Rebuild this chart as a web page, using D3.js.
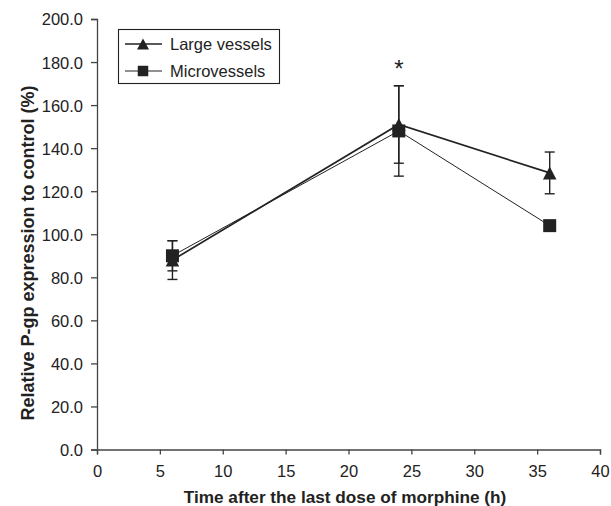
<!DOCTYPE html>
<html><head><meta charset="utf-8">
<script src="https://cdn.jsdelivr.net/npm/d3@7"></script>
<style>body{margin:0;background:#fff}svg{display:block}text{font-family:"Liberation Sans",Arial,sans-serif}</style>
</head><body><svg id="c" width="611" height="506"></svg>
<script>
const times = [6, 24, 36];
const largeVessels = [88, 151, 128.5];
const largeErr = [9, 18, 9.7];
const microVessels = [90, 148, 104];
const microErr = [7, 21, 2];
const xTicks = [0, 5, 10, 15, 20, 25, 30, 35, 40];
const yTicks = [0, 20, 40, 60, 80, 100, 120, 140, 160, 180, 200];
const seriesNames = ["Large vessels", "Microvessels"];

const svg = d3.select("#c");
const x = d3.scaleLinear().domain([0, 40]).range([97, 600]);
const y = d3.scaleLinear().domain([0, 200]).range([449.5, 19]);
const ink = "#222";

const xAxis = svg.append("g").attr("transform", "translate(0,449.5)")
  .call(d3.axisBottom(x).tickValues(xTicks).tickSize(5).tickPadding(11).tickFormat(d3.format("d")));
const yAxis = svg.append("g").attr("transform", "translate(97,0)")
  .call(d3.axisLeft(y).tickValues(yTicks).tickSize(6).tickPadding(8).tickFormat(d3.format(".1f")));
[xAxis, yAxis].forEach(g => {
  g.select(".domain").attr("stroke", "#444").attr("stroke-width", 1.3);
  g.selectAll(".tick line").attr("stroke", "#444").attr("stroke-width", 1.3);
  g.selectAll(".tick text").attr("font-size", 16.5).attr("fill", ink)
   .attr("font-family", '"Liberation Sans", Arial, sans-serif');
});
xAxis.selectAll(".tick text").attr("dy", null).attr("y", 476.5 - 449.5);
yAxis.selectAll(".tick text").attr("dy", "0.36em");

svg.append("text").attr("x", 345).attr("y", 503).attr("text-anchor", "middle")
  .attr("font-size", 17.2).attr("font-weight", "bold").attr("fill", ink)
  .text("Time after the last dose of morphine (h)");
svg.append("text").attr("transform", "translate(34,253) rotate(-90)").attr("text-anchor", "middle")
  .attr("font-size", 18).attr("font-weight", "bold").attr("fill", ink)
  .text("Relative P-gp expression to control (%)");

function tri(w, h) {
  return `M0,${-h / 2}L${w / 2},${h / 2}L${-w / 2},${h / 2}Z`;
}
function sq(s) {
  return `M${-s / 2},${-s / 2}h${s}v${s}h${-s}Z`;
}

const series = [
  {vals: largeVessels, err: largeErr, sw: 1.7, mark: tri(13.5, 13), legMark: tri(12, 11)},
  {vals: microVessels, err: microErr, sw: 1, mark: sq(13), legMark: sq(10.5)}
];
const line = d3.line().x((d, i) => x(times[i])).y(d => y(d));

series.forEach(s => {
  const g = svg.append("g");
  s.vals.forEach((v, i) => {
    const cx = x(times[i]);
    g.append("line").attr("x1", cx).attr("x2", cx).attr("y1", y(v - s.err[i])).attr("y2", y(v + s.err[i]))
      .attr("stroke", ink).attr("stroke-width", 1.4);
    [v - s.err[i], v + s.err[i]].forEach(e => g.append("line").attr("x1", cx - 5).attr("x2", cx + 5)
      .attr("y1", y(e)).attr("y2", y(e)).attr("stroke", ink).attr("stroke-width", 1.4));
  });
});
series.forEach(s => {
  svg.append("path").datum(s.vals).attr("d", line).attr("fill", "none")
    .attr("stroke", ink).attr("stroke-width", s.sw);
});
series.forEach(s => {
  s.vals.forEach((v, i) => {
    svg.append("path").attr("d", s.mark)
      .attr("transform", `translate(${x(times[i])},${y(v)})`).attr("fill", ink);
  });
});

svg.append("text").attr("x", x(24)).attr("y", 77).attr("text-anchor", "middle")
  .attr("font-size", 24).attr("fill", ink).text("*");

// legend
const lg = svg.append("g");
lg.append("rect").attr("x", 118.5).attr("y", 29.5).attr("width", 161).attr("height", 54)
  .attr("fill", "#fff").attr("stroke", ink).attr("stroke-width", 1.1);
series.forEach((s, i) => {
  const ly = 44 + i * 27;
  lg.append("line").attr("x1", 125).attr("x2", 162).attr("y1", ly).attr("y2", ly)
    .attr("stroke", ink).attr("stroke-width", s.sw);
  lg.append("path").attr("d", s.legMark)
    .attr("transform", `translate(143,${ly})`).attr("fill", ink);
  lg.append("text").attr("x", 170).attr("y", ly + 5.8).attr("font-size", 16.5).attr("fill", ink)
    .text(seriesNames[i]);
});
</script></body></html>
